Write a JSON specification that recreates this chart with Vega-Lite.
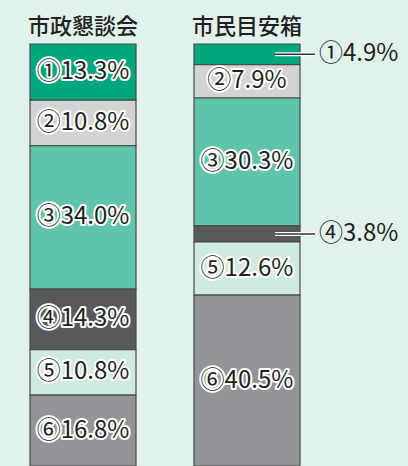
{
  "$schema": "https://vega.github.io/schema/vega-lite/v6.json",
  "width": 330,
  "height": 422,
  "autosize": "none",
  "padding": {"left": 0, "top": 44, "right": 78, "bottom": 0},
  "background": "#e1f2ec",
  "config": {"view": {"stroke": null}, "font": "Noto Sans CJK JP"},
  "data": {"values": [
    {"group": "市政懇談会", "item": 1, "pct": 13.3, "label": "①13.3%"},
    {"group": "市政懇談会", "item": 2, "pct": 10.8, "label": "②10.8%"},
    {"group": "市政懇談会", "item": 3, "pct": 34.0, "label": "③34.0%"},
    {"group": "市政懇談会", "item": 4, "pct": 14.3, "label": "④14.3%"},
    {"group": "市政懇談会", "item": 5, "pct": 10.8, "label": "⑤10.8%"},
    {"group": "市政懇談会", "item": 6, "pct": 16.8, "label": "⑥16.8%"},
    {"group": "市民目安箱", "item": 1, "pct": 4.9, "label": "①4.9%"},
    {"group": "市民目安箱", "item": 2, "pct": 7.9, "label": "②7.9%"},
    {"group": "市民目安箱", "item": 3, "pct": 30.3, "label": "③30.3%"},
    {"group": "市民目安箱", "item": 4, "pct": 3.8, "label": "④3.8%"},
    {"group": "市民目安箱", "item": 5, "pct": 12.6, "label": "⑤12.6%"},
    {"group": "市民目安箱", "item": 6, "pct": 40.5, "label": "⑥40.5%"}
  ]},
  "transform": [
    {"stack": "pct", "groupby": ["group"], "sort": [{"field": "item", "order": "ascending"}], "as": ["s", "e"]}
  ],
  "encoding": {
    "x": {
      "field": "group", "type": "nominal", "sort": ["市政懇談会", "市民目安箱"],
      "scale": {"paddingInner": 0.3537, "paddingOuter": 0.183},
      "axis": {"orient": "top", "title": null, "domain": false, "ticks": false, "labelAngle": 0,
               "labelFontSize": 22, "labelFontWeight": 500, "labelColor": "#231f20", "labelPadding": 6, "labelFont": "Noto Sans CJK JP"}
    }
  },
  "layer": [
    {
      "mark": {"type": "bar", "stroke": "#4a4a4a", "strokeWidth": 1.2},
      "encoding": {
        "y": {"field": "s", "type": "quantitative", "scale": {"domain": [0, 100], "reverse": true, "nice": false}, "axis": null},
        "y2": {"field": "e"},
        "color": {"field": "item", "type": "ordinal", "legend": null,
                  "scale": {"domain": [1, 2, 3, 4, 5, 6], "range": ["#00a67c", "#d3d3d5", "#5ec5ab", "#58595b", "#cfeae0", "#939497"]}}
      }
    },
    {
      "transform": [
        {"filter": "datum.pct >= 5"},
        {"fold": ["s", "e"], "as": ["k", "pos"]},
        {"aggregate": [{"op": "mean", "field": "pos", "as": "mid"}], "groupby": ["group", "label"]}
      ],
      "layer": [
        {
          "mark": {"type": "text", "fontSize": 24, "stroke": "white", "strokeWidth": 4, "fill": "white", "strokeJoin": "round", "baseline": "middle"},
          "encoding": {"y": {"field": "mid", "type": "quantitative"}, "text": {"field": "label"}}
        },
        {
          "mark": {"type": "text", "fontSize": 24, "fill": "#231f20", "baseline": "middle"},
          "encoding": {"y": {"field": "mid", "type": "quantitative"}, "text": {"field": "label"}}
        }
      ]
    },
    {
      "transform": [
        {"filter": "datum.pct < 5"},
        {"fold": ["s", "e"], "as": ["k", "pos"]},
        {"aggregate": [{"op": "mean", "field": "pos", "as": "mid"}], "groupby": ["group", "label"]}
      ],
      "layer": [
        {
          "mark": {"type": "rule", "stroke": "white", "strokeWidth": 4, "xOffset": 28, "x2Offset": 68},
          "encoding": {"y": {"field": "mid", "type": "quantitative"}, "x2": {"field": "group"}}
        },
        {
          "mark": {"type": "rule", "stroke": "#333333", "strokeWidth": 1.5, "xOffset": 28, "x2Offset": 68},
          "encoding": {"y": {"field": "mid", "type": "quantitative"}, "x2": {"field": "group"}}
        },
        {
          "mark": {"type": "text", "fontSize": 24, "fill": "#231f20", "baseline": "middle", "align": "left", "dx": 72},
          "encoding": {"y": {"field": "mid", "type": "quantitative"}, "text": {"field": "label"}}
        }
      ]
    }
  ]
}
